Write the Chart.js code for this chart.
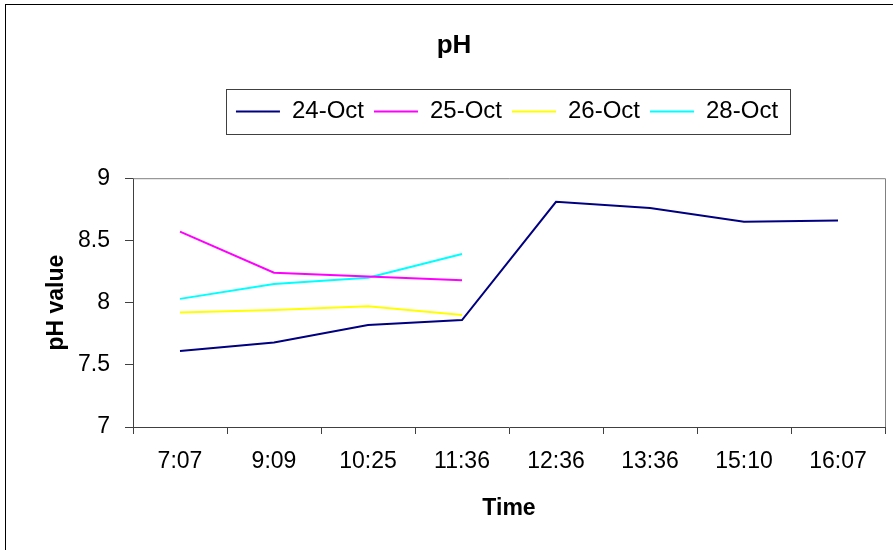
<!DOCTYPE html>
<html>
<head>
<meta charset="utf-8">
<script src="https://cdn.jsdelivr.net/npm/chart.js@4.4.0/dist/chart.umd.min.js"></script>
<style>
  html, body { margin: 0; padding: 0; background: #fff; }
  #wrap { width: 893px; height: 550px; }
</style>
</head>
<body>
<div id="wrap"><canvas id="ph"></canvas></div>
<script>
const times = ["7:07", "9:09", "10:25", "11:36", "12:36", "13:36", "15:10", "16:07"]
const oct24 = [7.61, 7.68, 7.82, 7.86, 8.81, 8.76, 8.65, 8.66]
const oct25 = [8.57, 8.24, 8.21, 8.18, null, null, null, null]
const oct26 = [7.92, 7.94, 7.97, 7.90, null, null, null, null]
const oct28 = [8.03, 8.15, 8.20, 8.39, null, null, null, null]
const yTicks = [7, 7.5, 8, 8.5, 9]

const FONT = "'Liberation Sans', Arial, sans-serif"

// nudge the title and legend after layout: title sits a bit right of centre,
// legend is centred over the plot and pulled up away from it
const placeBlocks = {
  id: "placeBlocks",
  afterLayout(chart) {
    const t = chart.titleBlock
    t.left += 9
    t.right += 9

    const lg = chart.legend
    const pad = lg.options.labels.padding
    const fs = lg.options.labels.font.size
    const dx = 507 - (lg.left + lg.right) / 2
    const dy = 111.5 - (lg.top + pad + fs / 2)
    lg.left += dx
    lg.right += dx
    lg.top += dy
    lg.bottom += dy
  }
}

// frame around the whole chart, top/right edge of the plot, legend box
const frames = {
  id: "frames",
  afterDraw(chart) {
    const c = chart.ctx
    const a = chart.chartArea
    c.save()
    c.lineWidth = 1
    c.strokeStyle = "#000"
    c.strokeRect(5.5, 4.5, 893, 560)

    c.strokeStyle = "#808080"
    c.beginPath()
    c.moveTo(a.left, a.top + 0.5)
    c.lineTo(a.right + 0.5, a.top + 0.5)
    c.lineTo(a.right + 0.5, a.bottom)
    c.stroke()

    const boxes = chart.legend.legendHitBoxes
    if (boxes && boxes.length) {
      const l = Math.min(...boxes.map(b => b.left))
      const r = Math.max(...boxes.map(b => b.left + b.width))
      const mid = boxes[0].top + boxes[0].height / 2
      c.strokeStyle = "#404040"
      c.strokeRect(Math.round(l - 10) + 0.5, Math.round(mid - 23) + 0.5,
        Math.round(r - l + 22), 45)
    }
    c.restore()
  }
}

const line = (label, data, color) => ({
  label,
  data,
  borderColor: color,
  backgroundColor: color,
  borderWidth: 2,
  pointRadius: 0,
  tension: 0,
  spanGaps: false,
})

new Chart(document.getElementById("ph"), {
  type: "line",
  data: {
    labels: times,
    datasets: [
      line("24-Oct", oct24, "#000080"),
      line("25-Oct", oct25, "#FF00FF"),
      line("26-Oct", oct26, "#FFFF00"),
      line("28-Oct", oct28, "#00FFFF"),
    ],
  },
  options: {
    responsive: true,
    maintainAspectRatio: false,
    animation: false,
    layout: {
      padding: { left: 5, right: 8, top: 0, bottom: 0 }
    },
    plugins: {
      title: {
        display: true,
        text: "pH",
        color: "#000",
        font: { family: FONT, size: 26, weight: "bold" },
        padding: { top: 30, bottom: 73 },
      },
      legend: {
        labels: {
          color: "#000",
          font: { family: FONT, size: 24 },
          usePointStyle: true,
          pointStyle: "line",
          pointStyleWidth: 44,
          boxHeight: 2,
          padding: 10,
        },
      },
      tooltip: { enabled: false },
    },
    scales: {
      x: {
        offset: true,
        grid: {
          offset: true,
          drawOnChartArea: false,
          tickLength: 7,
          tickColor: "#404040",
        },
        border: { color: "#404040", width: 1 },
        ticks: {
          color: "#000",
          font: { family: FONT, size: 23 },
          padding: 14,
          maxRotation: 0,
        },
        title: {
          display: true,
          text: "Time",
          color: "#000",
          font: { family: FONT, size: 23, weight: "bold" },
          padding: { top: 0, bottom: 28 },
        },
        afterFit(scale) { scale.height = 123 },
      },
      y: {
        min: 7,
        max: 9,
        afterBuildTicks(scale) { scale.ticks = yTicks.map(v => ({ value: v })) },
        grid: {
          drawOnChartArea: false,
          tickLength: 8,
          tickColor: "#404040",
        },
        border: { color: "#404040", width: 1 },
        ticks: {
          color: "#000",
          font: { family: FONT, size: 23 },
          padding: 15,
          callback: v => String(v),
        },
        title: {
          display: true,
          text: "pH value",
          color: "#000",
          font: { family: FONT, size: 23, weight: "bold" },
          padding: { top: 38, bottom: 0 },
        },
        afterFit(scale) { scale.width = 128 },
      },
    },
  },
  plugins: [placeBlocks, frames],
})
</script>
</body>
</html>
